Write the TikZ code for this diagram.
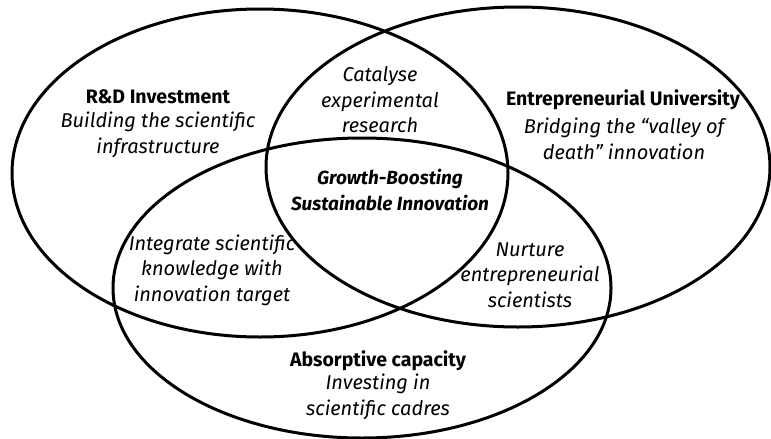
\documentclass[tikz,border=0pt]{standalone}
\usepackage{fontspec}
\setmainfont{Fira Sans}
\begin{document}
\begin{tikzpicture}[x=1pt,y=-1pt,
  circ/.style={line width=3pt, draw=black},
  lbl/.style={align=center, font=\fontsize{20}{25.5}\selectfont\itshape, inner sep=0pt},
  head/.style={align=center, font=\fontsize{19.5}{25.5}\selectfont\bfseries, inner sep=0pt},
  core/.style={align=center, font=\fontsize{19}{25.5}\selectfont\bfseries\itshape, inner sep=0pt}]
\useasboundingbox (0,0) rectangle (771,439);
% the three overlapping sets
\draw[circ] (260,173) ellipse [x radius=248, y radius=164];
\draw[circ] (518,167) ellipse [x radius=252, y radius=160];
\draw[circ] (362,288) ellipse [x radius=249, y radius=150];
% set titles
\node[head] (rd) at (158,97) {R\&D Investment};
\node[lbl] (rdtxt) at (158,135) {Building the scientific\\infrastructure};
\node[head] (eu) at (623,100) {Entrepreneurial University};
\node[lbl] (eutxt) at (624,139) {Bridging the “valley of\\death” innovation};
\node[head] (ac) at (378,361) {Absorptive capacity};
\node[lbl] (actxt) at (378,397) {Investing in\\scientific cadres};
% pairwise overlaps
\node[lbl] (cat) at (380,100) {Catalyse\\experimental\\research};
\node[lbl] (integ) at (212,270) {Integrate scientific\\knowledge with\\innovation target};
\node[lbl] (nurt) at (530,275) {Nurture\\entrepreneurial\\scientists};
% centre
\node[core] (gb) at (390,190) {Growth-Boosting\\Sustainable Innovation};
\end{tikzpicture}
\end{document}
